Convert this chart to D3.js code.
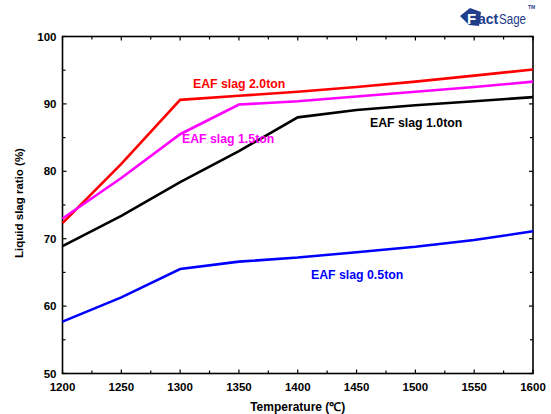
<!DOCTYPE html>
<html><head><meta charset="utf-8">
<script src="https://cdn.jsdelivr.net/npm/d3@7"></script>
<style>body{margin:0;background:#fff}svg{display:block}text{font-family:"Liberation Sans",Arial,sans-serif;font-weight:bold}</style>
</head><body><svg id="c" width="551" height="414"></svg>
<script>
const temps = [1200,1250,1300,1350,1400,1450,1500,1550,1600];
const slag20 = [72.3,81.1,90.6,91.2,91.8,92.5,93.3,94.2,95.1];
const slag15 = [73.0,79.0,85.5,89.9,90.4,91.1,91.8,92.5,93.3];
const slag10 = [68.9,73.4,78.4,83.0,88.0,89.1,89.8,90.4,91.0];
const slag05 = [57.7,61.3,65.5,66.6,67.2,68.0,68.8,69.8,71.1];
const seriesNames = ["EAF slag 2.0ton","EAF slag 1.5ton","EAF slag 1.0ton","EAF slag 0.5ton"];
const seriesColors = ["#ff0000","#ff00ff","#000000","#0000ff"];
const xTicks = [1200,1250,1300,1350,1400,1450,1500,1550,1600];
const yTicks = [50,60,70,80,90,100];

const svg = d3.select("#c");
const L=62.5, R=533, T=36.5, B=373.5;
const x = d3.scaleLinear().domain([1200,1600]).range([L,R]);
const y = d3.scaleLinear().domain([50,100]).range([B,T]);

svg.append("rect").attr("x",L).attr("y",T).attr("width",R-L).attr("height",B-T)
  .attr("fill","none").attr("stroke","#000").attr("stroke-width",1.6);

const tl=4, tm=3;
const g = svg.append("g").attr("stroke","#000").attr("stroke-width",1.2);
const xMinor = d3.range(1225,1600,50);
const yMinor = d3.range(55,100,10);
xTicks.forEach(t=>{ g.append("line").attr("x1",x(t)).attr("x2",x(t)).attr("y1",B).attr("y2",B-tl);
  g.append("line").attr("x1",x(t)).attr("x2",x(t)).attr("y1",T).attr("y2",T+tl);});
xMinor.forEach(t=>{ g.append("line").attr("x1",x(t)).attr("x2",x(t)).attr("y1",B).attr("y2",B-tm);
  g.append("line").attr("x1",x(t)).attr("x2",x(t)).attr("y1",T).attr("y2",T+tm);});
yTicks.forEach(v=>{ g.append("line").attr("x1",L).attr("x2",L+tl).attr("y1",y(v)).attr("y2",y(v));
  g.append("line").attr("x1",R).attr("x2",R-tl).attr("y1",y(v)).attr("y2",y(v));});
yMinor.forEach(v=>{ g.append("line").attr("x1",L).attr("x2",L+tm).attr("y1",y(v)).attr("y2",y(v));
  g.append("line").attr("x1",R).attr("x2",R-tm).attr("y1",y(v)).attr("y2",y(v));});

svg.append("g").selectAll("text").data(xTicks).join("text")
  .attr("x",d=>x(d)).attr("y",B+17).attr("text-anchor","middle").attr("font-size",11.5).text(d=>d);
svg.append("g").selectAll("text").data(yTicks).join("text")
  .attr("x",L-6).attr("y",d=>y(d)+4).attr("text-anchor","end").attr("font-size",11.5).text(d=>d);

svg.append("text").attr("x",(L+R)/2).attr("y",411).attr("text-anchor","middle").attr("font-size",12).text("Temperature (℃)");
svg.append("text").attr("transform",`translate(23,203) rotate(-90)`).attr("text-anchor","middle").attr("font-size",11.5).text("Liquid slag ratio (%)");

const data=[slag20,slag15,slag10,slag05];
const line=d3.line().x((d,i)=>x(temps[i])).y(d=>y(d));
data.forEach((s,i)=>{
  svg.append("path").datum(s).attr("d",line).attr("fill","none").attr("stroke",seriesColors[i])
    .attr("stroke-width",2.6).attr("stroke-linejoin","miter");
});
const labelPos=[[193,88],[182,143],[370,127],[311,279]];
seriesNames.forEach((n,i)=>{
  svg.append("text").attr("x",labelPos[i][0]).attr("y",labelPos[i][1]).attr("font-size",12.3)
    .attr("fill",seriesColors[i]).text(n);
});

// logo
const navy="#1f3d8a";
const lg=svg.append("g");
lg.append("path").attr("d","M460,16 L470,8 L481,12 L479,26 L469,25 Z").attr("fill",navy);
lg.append("text").attr("x",467).attr("y",24).attr("font-size",15).attr("fill","#fff").text("F");
lg.append("text").attr("x",478).attr("y",24).attr("font-size",14).attr("fill",navy).text("act");
lg.append("text").attr("x",499).attr("y",24).attr("font-size",14).attr("fill",navy).style("font-weight","normal").attr("textLength",27).attr("lengthAdjust","spacingAndGlyphs").text("Sage");
lg.append("text").attr("x",528).attr("y",9).attr("font-size",5).attr("fill",navy).text("TM");
</script></body></html>
